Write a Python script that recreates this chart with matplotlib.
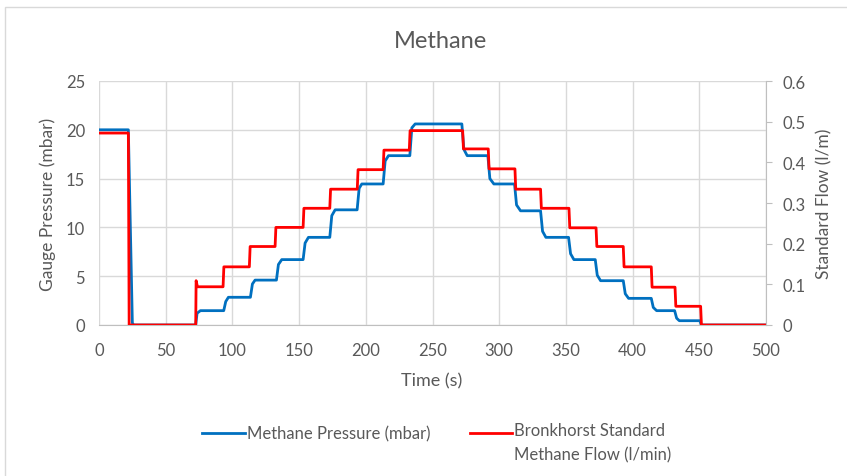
import matplotlib
matplotlib.use("Agg")
import matplotlib.pyplot as plt
from matplotlib.lines import Line2D
from matplotlib.patches import Rectangle

plt.rcParams['font.family'] = ['Lato', 'DejaVu Sans']

# Methane pressure (mbar) – vertices
pressure_t = [0, 22, 23.5, 25, 26, 72.5, 73.5, 76, 93.5, 95, 97, 113.5, 115, 117,
              133, 134.5, 137, 153, 154.5, 157, 173, 174.5, 177, 193.5, 195, 197,
              213, 214.5, 217, 233, 234.5, 237, 272, 273.5, 276, 291.5, 293, 296,
              311.5, 313, 316, 331, 332.5, 335, 352, 353.5, 356, 372, 373.5, 376,
              393, 394.5, 397, 414, 415.5, 418, 431.5, 433, 435, 450.5, 451.5, 500]
pressure_v = [20.0, 20.0, 10.0, 0.2, 0.0, 0.0, 1.2, 1.47, 1.47, 2.4, 2.84, 2.84, 4.2, 4.6,
              4.6, 6.2, 6.7, 6.7, 8.4, 8.98, 8.98, 11.2, 11.8, 11.8, 14.0, 14.45,
              14.45, 16.8, 17.35, 17.35, 20.2, 20.6, 20.6, 18.0, 17.35, 17.35, 15.0, 14.45,
              14.45, 12.3, 11.7, 11.7, 9.6, 8.98, 8.98, 7.3, 6.7, 6.7, 5.1, 4.54,
              4.54, 3.2, 2.73, 2.73, 1.8, 1.47, 1.47, 0.7, 0.44, 0.44, 0.0, 0.0]

# Bronkhorst standard methane flow (l/min)
flow_t = [0, 22, 22.6, 72.5, 72.8, 73.8, 93, 93.6, 112.7, 113.3, 132, 132.6,
          153, 153.6, 173, 173.6, 193.6, 194.2, 213, 213.6, 232.6, 233.2,
          272.6, 273.2, 291.8, 292.4, 311.8, 312.4, 331, 331.6, 352.3, 352.9,
          372.6, 373.2, 393, 393.6, 414, 414.6, 431.8, 432.4, 451, 451.6, 500]
flow_v = [0.472, 0.472, 0.0, 0.0, 0.109, 0.094, 0.094, 0.143, 0.143, 0.193, 0.193, 0.240,
          0.240, 0.287, 0.287, 0.334, 0.334, 0.382, 0.382, 0.430, 0.430, 0.478,
          0.478, 0.433, 0.433, 0.384, 0.384, 0.334, 0.334, 0.287, 0.287, 0.239,
          0.239, 0.193, 0.193, 0.143, 0.143, 0.093, 0.093, 0.046, 0.046, 0.0, 0.0]

x_ticks = [0, 50, 100, 150, 200, 250, 300, 350, 400, 450, 500]
left_ticks = [0, 5, 10, 15, 20, 25]
right_ticks = [0, 0.1, 0.2, 0.3, 0.4, 0.5, 0.6]
right_labels = ['0', '0.1', '0.2', '0.3', '0.4', '0.5', '0.6']

TXT = '#595959'
GRID = '#d9d9d9'
BLUE = '#0070C0'
RED = '#FF0000'

W, H = 847, 477
fig = plt.figure(figsize=(W / 100, H / 100), dpi=100)
L, R, T, B = 99, 766, 82, 326
ax = fig.add_axes([L / W, 1 - B / H, (R - L) / W, (B - T) / H])

ax.plot(pressure_t, pressure_v, color=BLUE, lw=2.0, solid_joinstyle='round')
ax.set_xlim(0, 500)
ax.set_ylim(0, 25)
ax.set_xticks(x_ticks)
ax.set_yticks(left_ticks)
ax.grid(True, color=GRID, lw=1.0)
ax.set_axisbelow(True)
for s in ['top', 'left', 'right']:
    ax.spines[s].set_visible(False)
ax.spines['bottom'].set_color('#bfbfbf')
ax.tick_params(axis='both', length=0, labelsize=12, labelcolor=TXT)
ax.tick_params(axis='y', pad=10)
ax.tick_params(axis='x', pad=12)

ax2 = ax.twinx()
ax2.plot(flow_t, flow_v, color=RED, lw=2.0, solid_joinstyle='round')
ax2.set_ylim(0, 0.6)
ax2.set_yticks(right_ticks)
ax2.set_yticklabels(right_labels)
for s in ['top', 'left', 'bottom']:
    ax2.spines[s].set_visible(False)
ax2.spines['right'].set_color('#bfbfbf')
ax2.tick_params(axis='y', length=4, color='#bfbfbf', labelsize=12, labelcolor=TXT, pad=8)

fig.text(440 / W, 1 - 42 / H, 'Methane', ha='center', va='center', fontsize=17, color=TXT)
fig.text(48 / W, 1 - 204 / H, 'Gauge Pressure (mbar)', rotation=90, ha='center', va='center',
         fontsize=12.5, color=TXT)
fig.text(824 / W, 1 - 204 / H, 'Standard Flow (l/m)', rotation=90, ha='center', va='center',
         fontsize=12.5, color=TXT)
fig.text(432 / W, 1 - 381 / H, 'Time (s)', ha='center', va='center', fontsize=13, color=TXT)

# legend
ly = 1 - 434 / H
fig.add_artist(Line2D([202 / W, 245 / W], [ly, ly], color=BLUE, lw=2.0, transform=fig.transFigure))
fig.text(247 / W, ly, 'Methane Pressure (mbar)', ha='left', va='center', fontsize=12, color=TXT)
fig.add_artist(Line2D([470 / W, 512 / W], [ly, ly], color=RED, lw=2.0, transform=fig.transFigure))
fig.text(514 / W, 1 - 423 / H, 'Bronkhorst Standard\nMethane Flow (l/min)', ha='left', va='top',
         fontsize=12, color=TXT, linespacing=1.6)

# chart border
fig.add_artist(Rectangle((5 / W, -0.1), 1.2, 1.1 - 8 / H, transform=fig.transFigure,
                         fill=False, edgecolor=GRID, lw=1.0))

fig.savefig('out.png', dpi=100)
